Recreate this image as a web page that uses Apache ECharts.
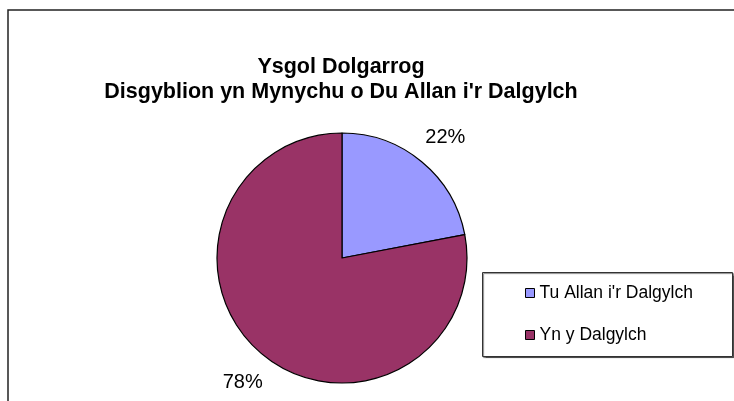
<!DOCTYPE html>
<html>
<head>
<meta charset="utf-8">
<script src="https://cdn.jsdelivr.net/npm/echarts@6/dist/echarts.min.js"></script>
<style>
  html, body { margin: 0; padding: 0; background: #fff; }
  #chart { width: 734px; height: 401px; }
</style>
</head>
<body>
<div id="chart"></div>
<script>
// chart data
var categories = ["Tu Allan i'r Dalgylch", "Yn y Dalgylch"];
var values = [22, 78];
var colors = ['#9999FF', '#993366'];
var titleLines = ['Ysgol Dolgarrog', "Disgyblion yn Mynychu o Du Allan i'r Dalgylch"];

var pieData = categories.map(function (name, i) {
    return { name: name, value: values[i], itemStyle: { color: colors[i] } };
});

var chart = echarts.init(document.getElementById('chart'), null, { renderer: 'canvas' });
var font = '"Liberation Sans", Arial, sans-serif';

var option = {
    animation: false,
    backgroundColor: '#fff',
    title: {
        text: titleLines.join('\n'),
        left: 341,
        top: 55,
        padding: 0,
        textAlign: 'center',
        textStyle: { fontFamily: font, fontSize: 21.5, fontWeight: 'bold', color: '#000', lineHeight: 25 }
    },
    legend: {
        orient: 'vertical',
        left: 525,
        top: 283,
        padding: 0,
        icon: 'rect',
        itemWidth: 9,
        itemHeight: 9,
        itemGap: 22,
        data: categories,
        selectedMode: false,
        itemStyle: { borderColor: '#000', borderWidth: 1 },
        textStyle: { fontFamily: font, fontSize: 17.5, color: '#000', lineHeight: 20 }
    },
    graphic: [
        {
            type: 'rect',
            shape: { x: 8, y: 10, width: 800, height: 500 },
            style: { fill: 'none', stroke: '#222', lineWidth: 1.5 },
            z: 0
        },
        {
            type: 'rect',
            shape: { x: 482.5, y: 272.5, width: 250, height: 84 },
            style: { fill: '#fff', stroke: '#333', lineWidth: 1, shadowColor: 'rgba(0,0,0,0.5)', shadowOffsetX: 1, shadowOffsetY: 1, shadowBlur: 1 },
            z: 1
        }
    ],
    series: [
        {
            type: 'pie',
            center: [342, 258],
            radius: 125,
            startAngle: 90,
            clockwise: true,
            data: pieData,
            label: { show: false },
            labelLine: { show: false },
            itemStyle: { borderColor: '#000', borderWidth: 1.2 },
            emphasis: { disabled: true }
        },
        {
            // invisible ring used only to place the percentage labels
            type: 'pie',
            center: [342, 258],
            radius: [146, 166],
            startAngle: 90,
            clockwise: true,
            silent: true,
            data: categories.map(function (name, i) { return { name: name, value: values[i] }; }),
            itemStyle: { color: 'rgba(0,0,0,0)' },
            label: {
                show: true,
                position: 'inside',
                fontFamily: font,
                fontSize: 20,
                color: '#000',
                offset: [2, 2],
                formatter: function (p) { return Math.round(p.percent) + '%'; }
            },
            labelLine: { show: false },
            emphasis: { disabled: true }
        }
    ]
};

chart.setOption(option);
</script>
</body>
</html>
